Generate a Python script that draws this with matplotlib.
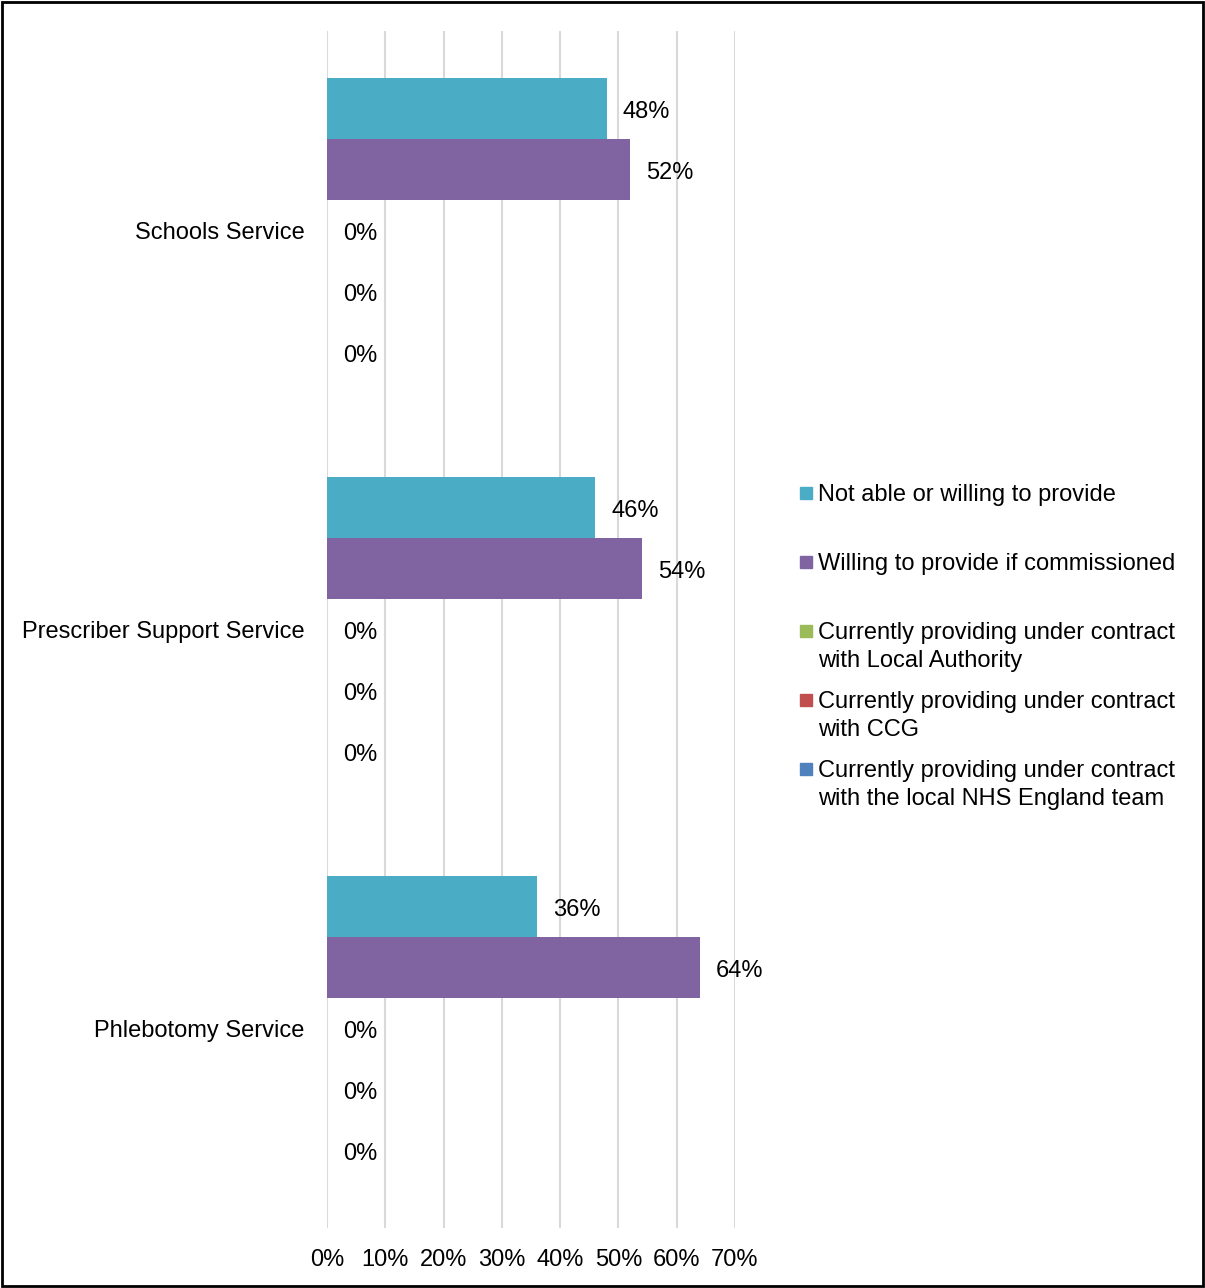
import matplotlib
matplotlib.use("Agg")
import matplotlib.pyplot as plt
from matplotlib.patches import Rectangle
from matplotlib.ticker import PercentFormatter

plt.rcParams['font.family'] = ['Liberation Sans', 'DejaVu Sans']

categories = ["Schools Service", "Prescriber Support Service", "Phlebotomy Service"]
series_names = [
    "Not able or willing to provide",
    "Willing to provide if commissioned",
    "Currently providing under contract\nwith Local Authority",
    "Currently providing under contract\nwith CCG",
    "Currently providing under contract\nwith the local NHS England team",
]
not_able = [0.48, 0.46, 0.36]
willing = [0.52, 0.54, 0.64]
local_authority = [0.0, 0.0, 0.0]
ccg = [0.0, 0.0, 0.0]
nhs_england = [0.0, 0.0, 0.0]
series_values = [not_able, willing, local_authority, ccg, nhs_england]
colors = ["#4BACC6", "#8064A2", "#9BBB59", "#C0504D", "#4F81BD"]
xticks = [0, 0.1, 0.2, 0.3, 0.4, 0.5, 0.6, 0.7]

W, H = 1205, 1288
fig = plt.figure(figsize=(W / 100, H / 100), dpi=100)
ax = fig.add_axes([327 / W, 1 - 1228 / H, (735 - 327) / W, (1228 - 31) / H])

fs = 17
bh = 0.153
n = len(series_values)
for i, (vals, c) in enumerate(zip(series_values, colors)):
    ys = [k + (i - (n - 1) / 2) * bh for k in range(len(categories))]
    bars = ax.barh(ys, vals, height=bh, color=c, zorder=3)
    anns = ax.bar_label(bars, labels=[f"{v * 100:.0f}%" for v in vals], padding=11.5,
                        fontsize=fs, color="black")
    for a in anns:
        a.xyann = (11.5, -2.3)

ax.set_ylim(len(categories) - 0.5, -0.5)
ax.set_yticks(range(len(categories)))
ax.set_yticklabels(categories, fontsize=fs)
ax.set_xlim(0, 0.7)
ax.set_xticks(xticks)
ax.xaxis.set_major_formatter(PercentFormatter(1.0, decimals=0))
ax.tick_params(axis="x", length=0, pad=15, labelsize=fs)
ax.tick_params(axis="y", length=0, pad=16)
for s in ax.spines.values():
    s.set_visible(False)
ax.grid(axis="x", color="#D9D9D9", linewidth=1.5, zorder=0)
ax.set_axisbelow(True)

# legend
leg_y = [493, 562, 631, 700, 769]
for name, c, yc in zip(series_names, colors, leg_y):
    fig.patches.append(Rectangle((800 / W, 1 - (yc + 6) / H), 12 / W, 12 / H,
                                 transform=fig.transFigure, color=c))
    for j, line in enumerate(name.split("\n")):
        fig.text(818 / W, 1 - (yc + 2 + 28 * j) / H, line, fontsize=fs,
                 va="center", ha="left")

# outer border
fig.patches.append(Rectangle((2 / W, 2 / H), (W - 4) / W, (H - 4) / H,
                             transform=fig.transFigure, fill=False,
                             edgecolor="black", linewidth=2))

fig.savefig("out.png", dpi=100)
